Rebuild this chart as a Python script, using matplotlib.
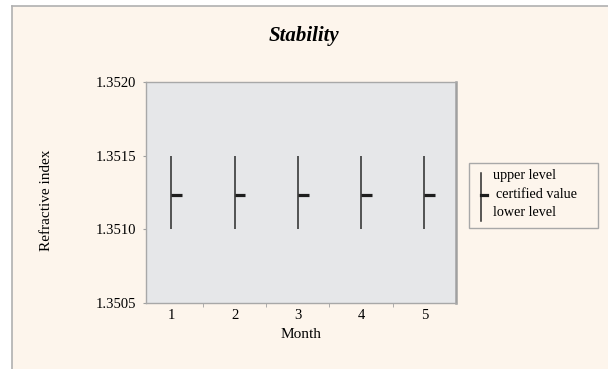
import matplotlib
matplotlib.use("Agg")
import matplotlib.pyplot as plt
from matplotlib.lines import Line2D
from matplotlib.patches import Rectangle
from matplotlib.ticker import FixedLocator, NullFormatter

months = [1, 2, 3, 4, 5]
upper_level = [1.3515, 1.3515, 1.3515, 1.3515, 1.3515]
certified_value = [1.35123, 1.35123, 1.35123, 1.35123, 1.35123]
lower_level = [1.3510, 1.3510, 1.3510, 1.3510, 1.3510]
y_ticks = [1.3505, 1.3510, 1.3515, 1.3520]
y_tick_labels = ["1.3505", "1.3510", "1.3515", "1.3520"]

W, H = 608, 369
DPI = 100
plt.rcParams['font.family'] = ['Liberation Serif', 'DejaVu Serif']

fig = plt.figure(figsize=(W / DPI, H / DPI), dpi=DPI)
fig.patch.set_facecolor('white')

def fx(px):
    return px / W

def fy(py):
    return 1 - py / H

# cream panel with gray border on left and top
fig.add_artist(Rectangle((fx(12), 0), 1 - fx(12), fy(6), transform=fig.transFigure,
                         facecolor='#fdf5ec', edgecolor='none', zorder=0))
fig.add_artist(Line2D([fx(12), fx(12)], [0, fy(6)], transform=fig.transFigure,
                      color='#b0b0b0', lw=1.2))
fig.add_artist(Line2D([fx(12), 1], [fy(6), fy(6)], transform=fig.transFigure,
                      color='#b0b0b0', lw=1.2))

left, top, right, bottom = 146, 82, 456, 303
ax = fig.add_axes([fx(left), fy(bottom), fx(right - left), (bottom - top) / H])
ax.set_facecolor('#e6e7e9')

ax.vlines(months, lower_level, upper_level, color='#2a2a2a', lw=1.1)
ax.hlines(certified_value, [m for m in months], [m + 0.17 for m in months],
          color='#1e1e1e', lw=2.3)

ax.set_xlim(0.6, 5.5)
ax.set_ylim(1.3505, 1.3520)

ax.set_xticks(months)
ax.set_xticklabels([str(m) for m in months], fontsize=10.5)
ax.tick_params(axis='x', which='major', length=0, pad=4)
ax.xaxis.set_minor_locator(FixedLocator([1.5, 2.5, 3.5, 4.5]))
ax.xaxis.set_minor_formatter(NullFormatter())
ax.tick_params(axis='x', which='minor', length=3, color='#a0a0a0', direction='out')

ax.set_yticks(y_ticks)
ax.set_yticklabels(y_tick_labels, fontsize=10.5)
ax.tick_params(axis='y', length=2.5, color='#a0a0a0', pad=4.5)

for s in ['left', 'top', 'bottom']:
    ax.spines[s].set_color('#a8a8a8')
    ax.spines[s].set_linewidth(1.0)
ax.spines['right'].set_color('#a0a0a0')
ax.spines['right'].set_linewidth(1.8)

ax.set_xlabel('Month', fontsize=11, labelpad=5)
fig.text(fx(46), fy(200), 'Refractive index', rotation=90, ha='center', va='center',
         fontsize=11)

fig.text(fx(304), fy(36), 'Stability', ha='center', va='center', fontsize=15,
         fontweight='bold', fontstyle='italic')

# legend box
fig.add_artist(Rectangle((fx(469), fy(228)), fx(598 - 469), (228 - 163) / H,
                         transform=fig.transFigure, facecolor='#fdf5ec',
                         edgecolor='#a8a8a8', lw=1.0))
fig.add_artist(Line2D([fx(481), fx(481)], [fy(173), fy(221)], transform=fig.transFigure,
                      color='#2a2a2a', lw=1.1))
fig.add_artist(Line2D([fx(481), fx(487)], [fy(195), fy(195)], transform=fig.transFigure,
                      color='#1e1e1e', lw=2.3))
fig.text(fx(493), fy(176), 'upper level', ha='left', va='center', fontsize=10.2)
fig.text(fx(496), fy(195), 'certified value', ha='left', va='center', fontsize=10.2)
fig.text(fx(493), fy(213), 'lower level', ha='left', va='center', fontsize=10.2)

fig.savefig('out.png', dpi=DPI)
